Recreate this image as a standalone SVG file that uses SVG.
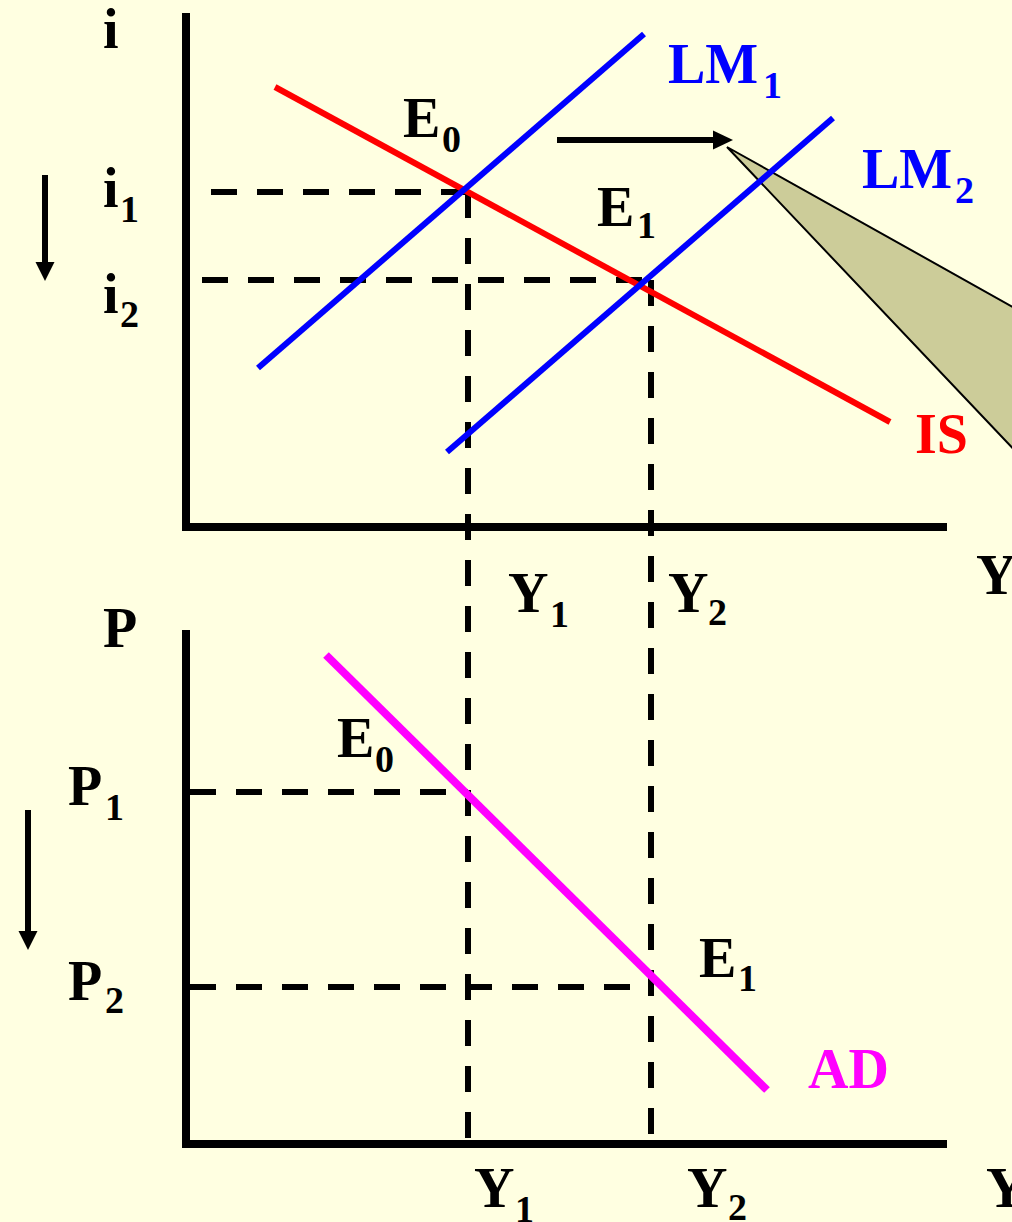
<svg xmlns="http://www.w3.org/2000/svg" width="1012" height="1222" viewBox="0 0 1012 1222">
<style>
.t{font-family:"Liberation Serif","Times New Roman",serif;font-weight:bold;font-size:56px;fill:#000}
.s{font-size:38px}
.ax{stroke:#000;stroke-width:8;fill:none;stroke-linecap:square}
.d{stroke:#000;stroke-width:6;fill:none;stroke-dasharray:26 20}
.ar{stroke:#000;stroke-width:6;fill:none}
.hd{fill:#000}
</style>
<rect width="1012" height="1222" fill="#FFFFE1"/>
<g id="callout"><polygon points="727,147 1020,311 1020,456" fill="#CCCC99" stroke="#000" stroke-width="2"/></g>
<g id="axes">
<path class="ax" d="M186,17 V527 H943"/>
<path class="ax" d="M186,634 V1144 H943"/>
</g>
<g id="guides">
<path class="d" d="M211,192 H468"/>
<path class="d" d="M202,280 H651"/>
<path class="d" d="M468,192 V1145"/>
<path class="d" d="M651,280 V1152"/>
<path class="d" d="M190,792 H468"/>
<path class="d" d="M190,987 H651"/>
</g>
<g id="curves">
<line id="IS" x1="275" y1="87" x2="890" y2="422" stroke="#FF0000" stroke-width="6"/>
<line id="LM1" x1="258" y1="368" x2="644" y2="34" stroke="#0000FF" stroke-width="6"/>
<line id="LM2" x1="447" y1="452" x2="833" y2="118" stroke="#0000FF" stroke-width="6"/>
<line id="AD" x1="326" y1="655" x2="767" y2="1090" stroke="#FF00FF" stroke-width="8"/>
</g>
<g id="arrows">
<line class="ar" x1="45" y1="175" x2="45" y2="263"/>
<polygon class="hd" points="35.5,262 54.5,262 45,281"/>
<line class="ar" x1="28" y1="810" x2="28" y2="932"/>
<polygon class="hd" points="18.5,931 37.5,931 28,950"/>
<line class="ar" x1="557" y1="140" x2="714" y2="140"/>
<polygon class="hd" points="713,130.5 733,140 713,149.5"/>
</g>
<g id="labels">
<text class="t" x="103" y="48">i</text>
<text class="t" x="103" y="207">i<tspan class="s" x="120" y="222">1</tspan></text>
<text class="t" x="103" y="313">i<tspan class="s" x="120" y="327">2</tspan></text>
<text class="t" x="403" y="137">E<tspan class="s" x="442" y="152">0</tspan></text>
<text class="t" x="668" y="83" style="fill:#0000FF">LM<tspan class="s" x="763" y="98">1</tspan></text>
<text class="t" x="862" y="188" style="fill:#0000FF">LM<tspan class="s" x="955" y="203">2</tspan></text>
<text class="t" x="597" y="226">E<tspan class="s" x="637" y="238">1</tspan></text>
<text class="t" x="915" y="453" style="fill:#FF0000">IS</text>
<text class="t" x="976" y="594">Y</text>
<text class="t" x="508" y="612">Y<tspan class="s" x="550" y="627">1</tspan></text>
<text class="t" x="668" y="612">Y<tspan class="s" x="708" y="625">2</tspan></text>
<text class="t" x="103" y="647">P</text>
<text class="t" x="337" y="757">E<tspan class="s" x="375" y="772">0</tspan></text>
<text class="t" x="68" y="805">P<tspan class="s" x="105" y="820">1</tspan></text>
<text class="t" x="68" y="1000">P<tspan class="s" x="105" y="1013">2</tspan></text>
<text class="t" x="699" y="977">E<tspan class="s" x="738" y="991">1</tspan></text>
<text class="t" x="808" y="1088" style="fill:#FF00FF">AD</text>
<text class="t" x="474" y="1207">Y<tspan class="s" x="515" y="1222">1</tspan></text>
<text class="t" x="687" y="1207">Y<tspan class="s" x="728" y="1220">2</tspan></text>
<text class="t" x="986" y="1207">Y</text>
</g>
</svg>
